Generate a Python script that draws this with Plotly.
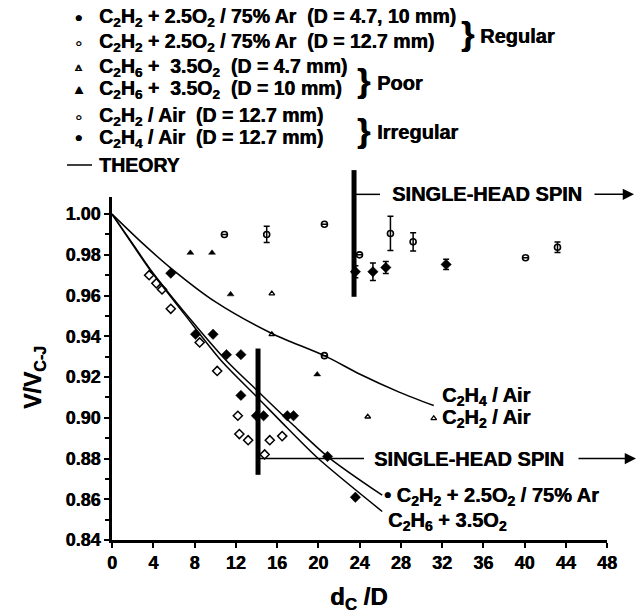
import plotly.graph_objects as go

# ---------------- data ----------------
x_tick_vals = [0, 4, 8, 12, 16, 20, 24, 28, 32, 36, 40, 44, 48]
y_tick_vals = [0.84, 0.86, 0.88, 0.90, 0.92, 0.94, 0.96, 0.98, 1.00]

# C2H2 + 2.5O2 / 75% Ar (D = 4.7, 10 mm)  - filled
reg_small_x = [5.7, 8.1, 9.8, 11.1, 12.5, 12.5, 14.0, 14.7, 17.0, 17.6, 20.9, 23.6]
reg_small_y = [0.971, 0.941, 0.941, 0.931, 0.931, 0.911, 0.901, 0.901, 0.901, 0.901, 0.881, 0.861]

# C2H2 + 2.5O2 / 75% Ar (D = 12.7 mm) - open
reg_large_x = [3.6, 4.3, 4.85, 5.7, 8.5, 10.2, 12.2, 12.35, 13.2, 14.8, 15.3, 16.5]
reg_large_y = [0.970, 0.966, 0.963, 0.9535, 0.937, 0.923, 0.901, 0.892, 0.889, 0.882, 0.889, 0.891]

# C2H6 + 3.5O2 (D = 4.7 mm)
poor47_x = [15.5, 15.5, 24.8, 31.2]
poor47_y = [0.961, 0.941, 0.9005, 0.8997]

# C2H6 + 3.5O2 (D = 10 mm)
poor10_x = [7.6, 9.7, 11.5, 19.9]
poor10_y = [0.981, 0.981, 0.9606, 0.9213]

# C2H2 / Air (D = 12.7 mm)
c2h2air_x = [10.9, 15.0, 20.6, 20.6, 24.0, 27.0, 29.2, 40.1, 43.2]
c2h2air_y = [0.990, 0.990, 0.995, 0.9305, 0.980, 0.9905, 0.9864, 0.9786, 0.9837]
c2h2air_err = [0, 0.004, 0, 0, 0, 0.0084, 0.0045, 0, 0.0026]

# C2H4 / Air (D = 12.7 mm)
c2h4air_x = [23.6, 25.3, 26.55, 32.4]
c2h4air_y = [0.9717, 0.9717, 0.9738, 0.9753]
c2h4air_err = [0.003, 0.0043, 0.0029, 0.0025]

# theory curves
th_c2h4_x = [0, 3, 5.7, 10, 15.5, 20.6, 24, 27.9, 31.2]
th_c2h4_y = [1.0, 0.9855, 0.9735, 0.957, 0.9414, 0.9305, 0.9215, 0.9125, 0.906]
th_ar_x = [0, 2, 3.7, 7.5, 11.1, 14.2, 17.5, 21.0, 26.2]
th_ar_y = [1.0, 0.9855, 0.973, 0.949, 0.928, 0.9128, 0.8968, 0.8806, 0.862]
th_c2h6_x = [0, 2, 3.7, 7.0, 10.6, 14.2, 17.0, 20.0, 26.2]
th_c2h6_y = [1.0, 0.985, 0.9725, 0.951, 0.928, 0.9095, 0.895, 0.880, 0.854]

# spin boundaries (x, y_low, y_high, y_line)
spin_upper = (23.47, 0.9594, 1.0216, 1.0097)
spin_lower = (14.16, 0.872, 0.934, 0.880)

X_RANGE = [0, 48]
Y_RANGE = [0.84, 1.0084]

# ---------------- layout geometry ----------------
W, H = 642, 613
L, R, T, B = 112, 607, 197, 540
FONT = "Liberation Sans"
HEAVY = "0.5px 0 0 black"


def pxx(p):
    return (p - L) / (R - L)


def pxy(p):
    return (B - p) / (B - T)


def dx(v):
    return (v - X_RANGE[0]) / (X_RANGE[1] - X_RANGE[0])


def dy(v):
    return (v - Y_RANGE[0]) / (Y_RANGE[1] - Y_RANGE[0])


def font(size):
    return dict(family=FONT, size=size, color="black", weight="bold", shadow=HEAVY)


fig = go.Figure()

for xs, ys in [(th_c2h4_x, th_c2h4_y), (th_ar_x, th_ar_y), (th_c2h6_x, th_c2h6_y)]:
    fig.add_trace(go.Scatter(x=xs, y=ys, mode="lines",
                             line=dict(color="black", width=1.5, shape="spline", smoothing=0.8),
                             cliponaxis=False, showlegend=False, hoverinfo="skip"))


def pts(x, y, symbol, size, lw=1.5, err=None):
    kw = {}
    if err is not None:
        kw["error_y"] = dict(type="data", array=err, visible=True, color="black",
                             thickness=1.5, width=3)
    fig.add_trace(go.Scatter(x=x, y=y, mode="markers",
                             marker=dict(symbol=symbol, size=size, color="black",
                                         line=dict(color="black", width=lw)),
                             cliponaxis=False, showlegend=False, **kw))


pts(reg_small_x, reg_small_y, "diamond", 8, 0.5)
pts(reg_large_x, reg_large_y, "diamond-open", 7, 1.5)
pts(poor47_x, poor47_y, "triangle-up-open", 5, 1.3)
pts(poor10_x, poor10_y, "triangle-up", 6, 0.5)
pts(c2h2air_x, c2h2air_y, "circle-open", 6, 1.6, c2h2air_err)
pts(c2h4air_x, c2h4air_y, "diamond", 8, 0.5, c2h4air_err)

shapes = []
annotations = []


def ann(x, y, text, size, xanchor="left", yanchor="middle", **kw):
    annotations.append(dict(x=x, y=y, xref="paper", yref="paper", text=text,
                            showarrow=False, xanchor=xanchor, yanchor=yanchor,
                            font=font(size), **kw))


# ---------- spin boundaries ----------
for (sx, ylo, yhi, yl), line_end, txt_c, arr_start, arr_end in [
        (spin_upper, 380, 487, 593, 634),
        (spin_lower, 364, 469, 577, 636)]:
    shapes.append(dict(type="line", xref="paper", yref="paper",
                       x0=dx(sx), x1=dx(sx), y0=dy(ylo), y1=dy(yhi),
                       line=dict(color="black", width=5)))
    shapes.append(dict(type="line", xref="paper", yref="paper",
                       x0=dx(sx), x1=pxx(line_end), y0=dy(yl), y1=dy(yl),
                       line=dict(color="black", width=1.5)))
    ann(pxx(txt_c), dy(yl), "SINGLE-HEAD SPIN", 20, xanchor="center")
    annotations.append(dict(x=pxx(arr_end), y=dy(yl), xref="paper", yref="paper",
                            ax=-(arr_end - arr_start), ay=0, axref="pixel", ayref="pixel",
                            text="", showarrow=True, arrowhead=2, arrowsize=1.5,
                            arrowwidth=1.5, arrowcolor="black", standoff=0))


# ---------- curve labels ----------
def cl(x, y, text, size=20):
    annotations.append(dict(x=x, y=y, xref="x", yref="y", text=text, showarrow=False,
                            xanchor="left", yanchor="middle", font=font(size)))


cl(31.8, 0.9107, "C<sub>2</sub>H<sub>4</sub> / Air")
cl(31.8, 0.8995, "C<sub>2</sub>H<sub>2</sub> / Air")
cl(26.2, 0.8615, "\u2022 C<sub>2</sub>H<sub>2</sub> + 2.5O<sub>2</sub> / 75% Ar")
cl(26.6, 0.849, "C<sub>2</sub>H<sub>6</sub> + 3.5O<sub>2</sub>")

# ---------- legend block ----------
S = "\u00a0"
legend_rows = [
    (18, "\u2022", 20, f"C<sub>2</sub>H<sub>2</sub> + 2.5O<sub>2</sub> / 75% Ar{S}{S}(D = 4.7, 10 mm)"),
    (43, "\u25e6", 20, f"C<sub>2</sub>H<sub>2</sub> + 2.5O<sub>2</sub> / 75% Ar{S}{S}(D = 12.7 mm)"),
    (67, "\u25b5", 12, f"C<sub>2</sub>H<sub>6</sub> +{S}{S}3.5O<sub>2</sub>{S}{S}(D = 4.7 mm)"),
    (89, "\u25b4", 14, f"C<sub>2</sub>H<sub>6</sub> +{S}{S}3.5O<sub>2</sub>{S}{S}(D = 10 mm)"),
    (117, "\u25e6", 20, f"C<sub>2</sub>H<sub>2</sub> / Air{S}{S}(D = 12.7 mm)"),
    (138, "\u2022", 20, f"C<sub>2</sub>H<sub>4</sub> / Air{S}{S}(D = 12.7 mm)"),
]
for yp, sym, ssz, txt in legend_rows:
    ann(pxx(78), pxy(yp), sym, ssz, xanchor="center")
    ann(pxx(97), pxy(yp), txt, 19.5)

shapes.append(dict(type="line", xref="paper", yref="paper",
                   x0=pxx(67), x1=pxx(92), y0=pxy(165), y1=pxy(165),
                   line=dict(color="black", width=1.5)))
ann(pxx(97), pxy(165), "THEORY", 19.5)

# braces and group labels
ann(pxx(459), pxy(33), "}", 34)
ann(pxx(478), pxy(36), "Regular", 20)
ann(pxx(355), pxy(80), "}", 34)
ann(pxx(375), pxy(83), "Poor", 20)
ann(pxx(355), pxy(130), "}", 34)
ann(pxx(375), pxy(132), "Irregular", 20)

# axis titles
ann(pxx(34), pxy(378), "V/V<sub>C-J</sub>", 23, xanchor="center", textangle=-90)
ann(pxx(358), pxy(598), "d<sub>C</sub> /D", 24, xanchor="center")

fig.update_layout(
    width=W, height=H,
    margin=dict(l=L, r=W - R, t=T, b=H - B, pad=0),
    paper_bgcolor="white", plot_bgcolor="white",
    showlegend=False,
    shapes=shapes, annotations=annotations,
    xaxis=dict(range=X_RANGE, tickvals=x_tick_vals, ticks="outside", ticklen=5,
               tickwidth=2, tickcolor="black", showline=True, linewidth=2.5,
               linecolor="black", showgrid=False, zeroline=False,
               tickfont=font(18)),
    yaxis=dict(range=Y_RANGE, tickvals=y_tick_vals, tickformat=".2f", ticks="outside",
               ticklen=5, tickwidth=2, tickcolor="black", showline=True, linewidth=2.5,
               linecolor="black", showgrid=False, zeroline=False,
               minor=dict(tickvals=[0.85, 0.87, 0.89, 0.91, 0.93, 0.95, 0.97, 0.99],
                          ticks="outside", ticklen=4, tickwidth=1.5, tickcolor="black"),
               tickfont=font(18)),
)

fig.write_html("out.html")
